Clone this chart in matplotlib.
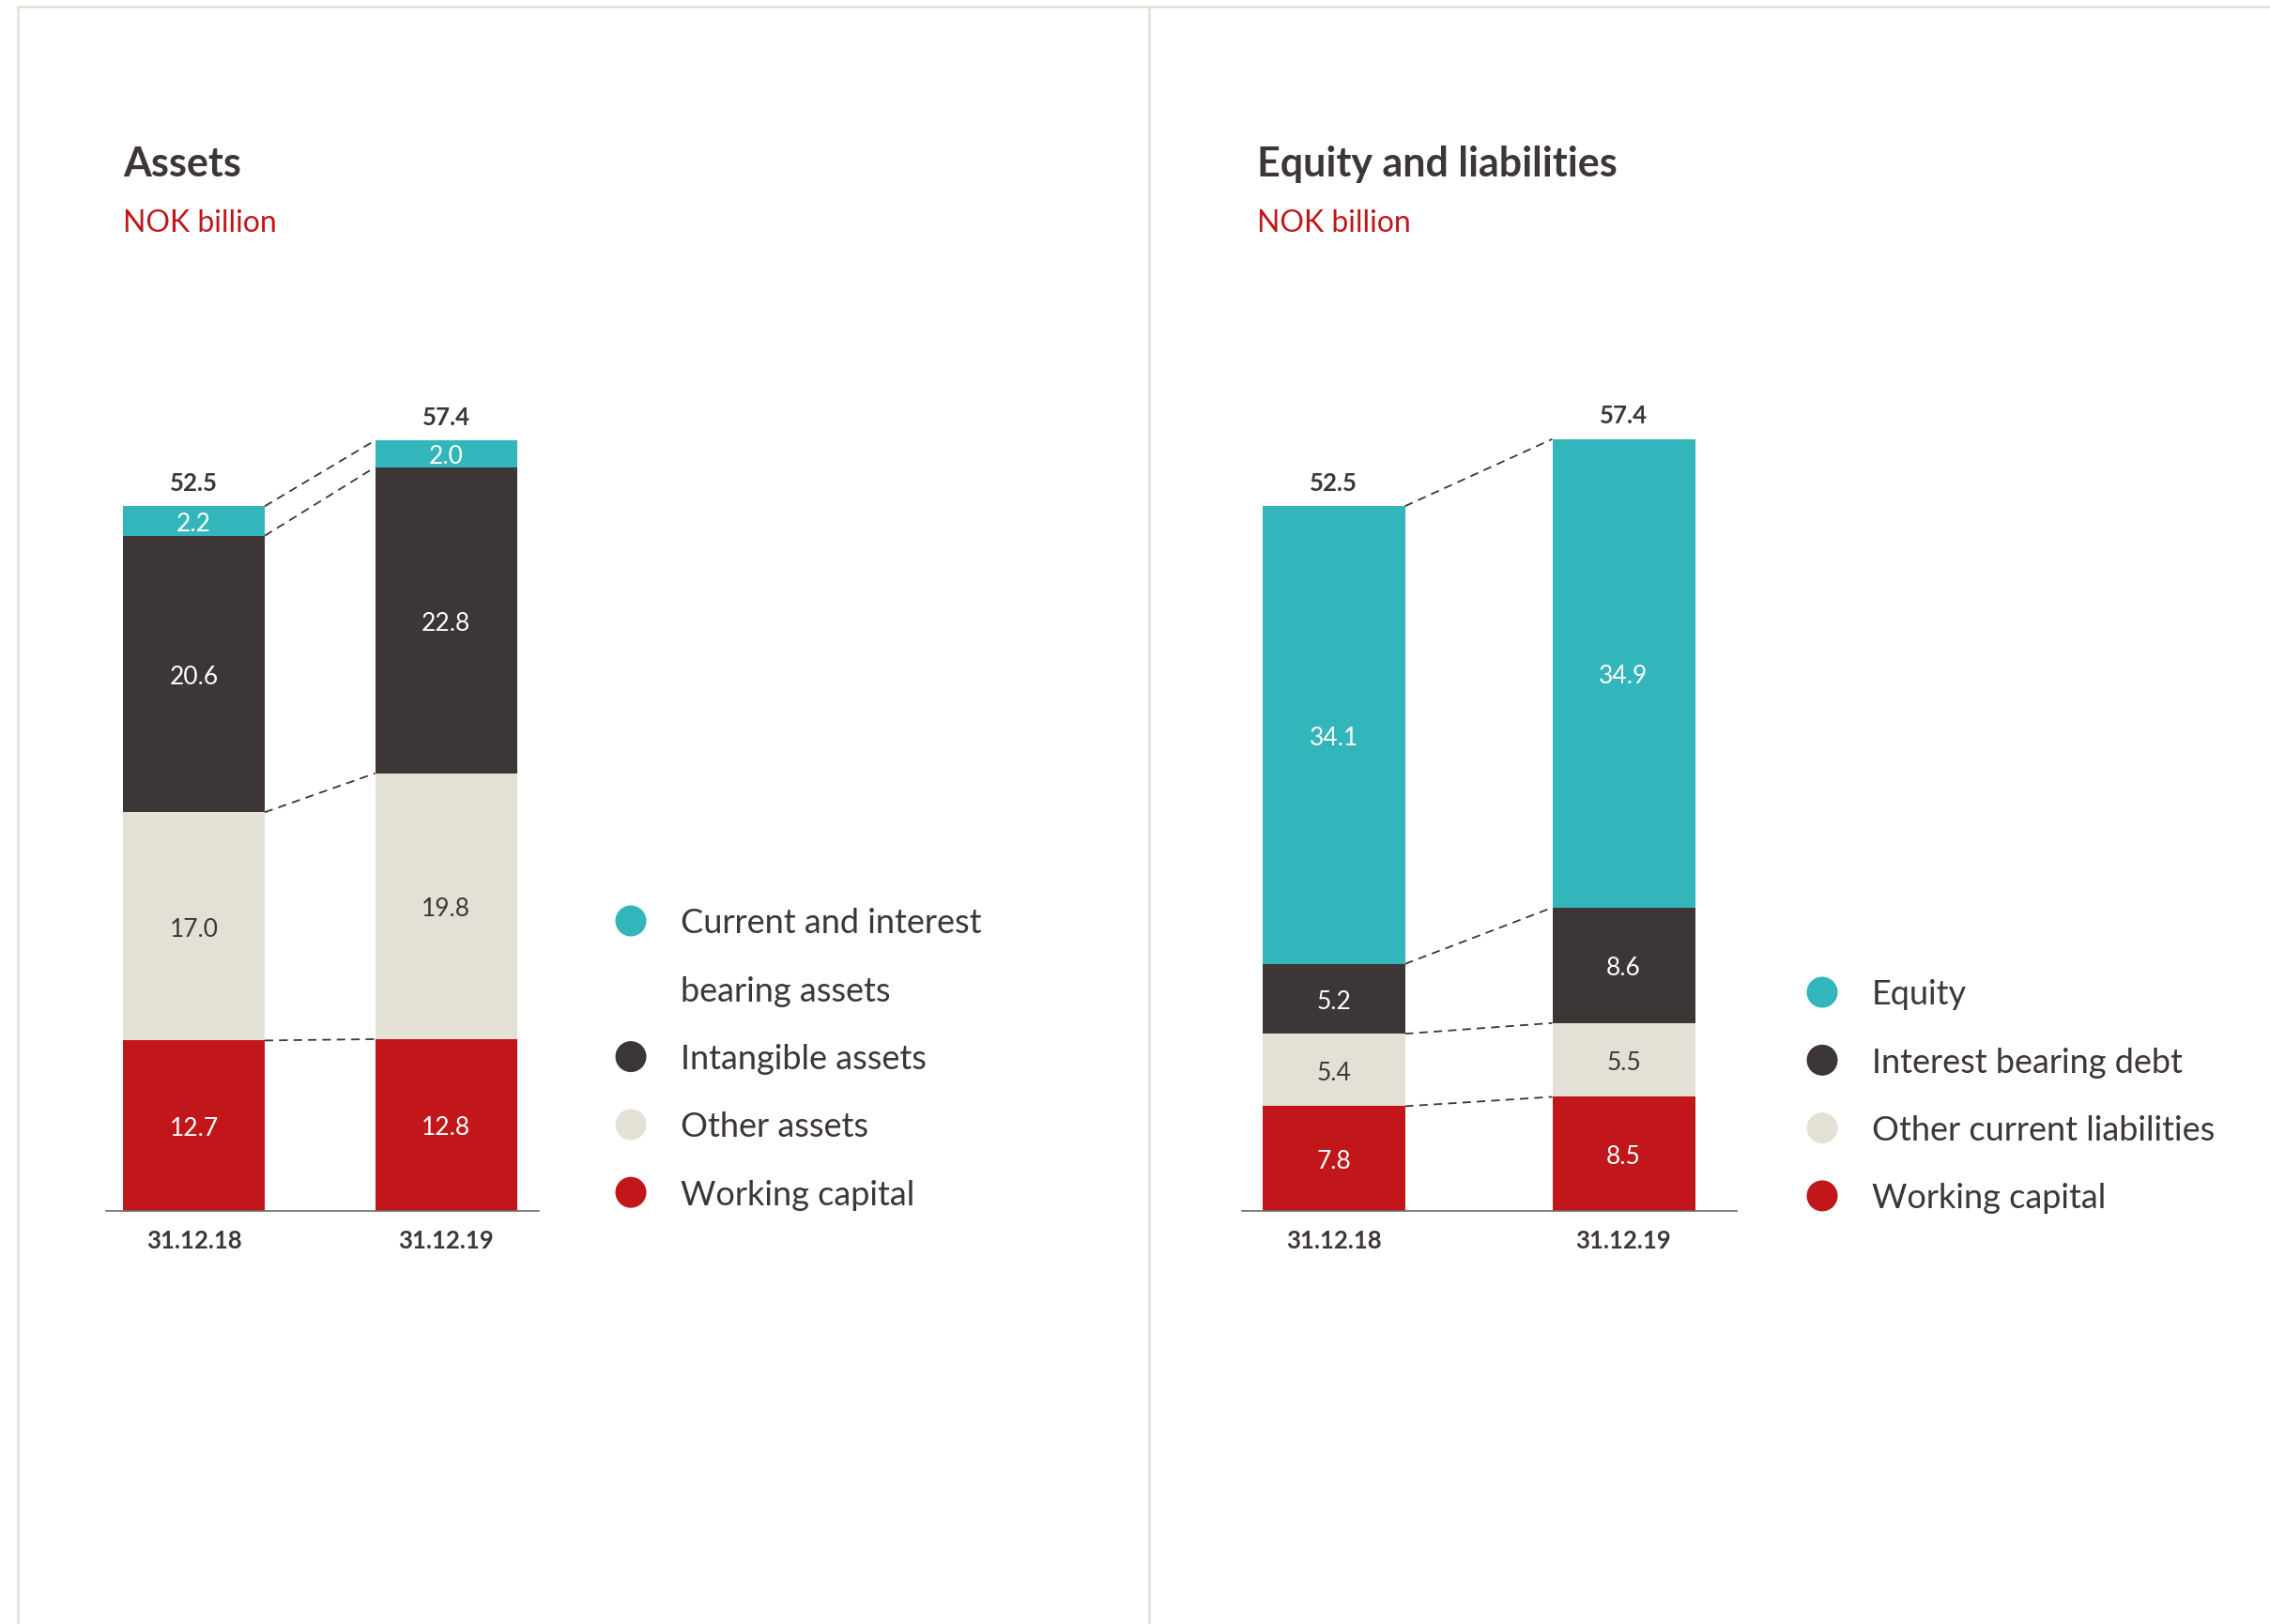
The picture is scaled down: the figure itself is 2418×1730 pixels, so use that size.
import matplotlib.pyplot as plt
from matplotlib.patches import Circle

# --- data -------------------------------------------------------------
dates = ['31.12.18', '31.12.19']

asset_names = ['Working capital', 'Other assets', 'Intangible assets',
               'Current and interest\nbearing assets']
working_capital_assets = [12.7, 12.8]
other_assets = [17.0, 19.8]
intangible_assets = [20.6, 22.8]
current_interest_assets = [2.2, 2.0]
asset_totals = [52.5, 57.4]

liability_names = ['Working capital', 'Other current liabilities',
                   'Interest bearing debt', 'Equity']
working_capital_liab = [7.8, 8.5]
other_current_liab = [5.4, 5.5]
interest_bearing_debt = [5.2, 8.6]
equity = [34.1, 34.9]
liability_totals = [52.5, 57.4]

# --- style --------------------------------------------------------------
plt.rcParams['font.family'] = ['Lato', 'DejaVu Sans']
TEXT = '#3d3637'
RED = '#c1171b'
colors = [RED, '#e3e1d6', '#3d3637', '#33b6bb']
value_colors = ['white', TEXT, 'white', 'white']
FRAME = '#e4e3da'

W, H = 2418, 1731
PX_PER_UNIT = 14.3
BASE_Y = 1291  # pixel row of the zero line


def axes_rect(x0, x1, ymax=60):
    top = BASE_Y - ymax * PX_PER_UNIT
    return [x0 / W, (H - BASE_Y) / H, (x1 - x0) / W, (BASE_Y - top) / H]


def draw_stack(ax, series, totals, width, xlim):
    x = [0, 1]
    bottoms = [0.0, 0.0]
    for vals, c, tc in zip(series, colors, value_colors):
        ax.bar(x, vals, width, bottom=bottoms, color=c, linewidth=0, zorder=2)
        for xi, v, b in zip(x, vals, bottoms):
            ax.text(xi, b + v / 2, f'{v:.1f}', ha='center', va='center_baseline',
                    color=tc, fontsize=19)
        bottoms = [b + v for b, v in zip(bottoms, vals)]
        # dashed connector between the tops of the two segments
        ax.plot([width / 2, 1 - width / 2], bottoms, ls=(0, (5, 3.5)),
                color=TEXT, lw=1.3, zorder=1)
    for xi, t, top in zip(x, totals, bottoms):
        ax.annotate(f'{t:.1f}', (xi, top), xytext=(0, 12.5), textcoords='offset points',
                    ha='center', va='baseline', fontsize=18.5, fontweight='bold', color=TEXT)
    ax.set_xlim(*xlim)
    ax.set_ylim(0, 60)
    ax.set_xticks(x, dates)
    ax.tick_params(axis='x', length=0, pad=14, labelsize=18.5, labelcolor=TEXT)
    for lab in ax.get_xticklabels():
        lab.set_fontweight('bold')
    ax.set_yticks([])
    for s in ['top', 'right', 'left']:
        ax.spines[s].set_visible(False)
    ax.spines['bottom'].set_color('#6f6a6b')
    ax.spines['bottom'].set_linewidth(1.2)
    ax.patch.set_alpha(0)


fig = plt.figure(figsize=(W / 100, H / 100), dpi=100)

# background overlay in pixel coordinates: frame, titles, legends
bg = fig.add_axes([0, 0, 1, 1], zorder=0)
bg.set_xlim(0, W)
bg.set_ylim(H, 0)
bg.axis('off')
bg.plot([19, W], [8, 8], color=FRAME, lw=2)
bg.plot([19, 19], [8, H], color=FRAME, lw=2)
bg.plot([1224, 1224], [8, H], color=FRAME, lw=2)

for x0, title in [(131, 'Assets'), (1339, 'Equity and liabilities')]:
    bg.text(x0, 188, title, fontsize=31, fontweight='bold', color=TEXT, va='baseline')
    bg.text(x0, 247, 'NOK billion', fontsize=23, color=RED, va='baseline')


def draw_legend(names, mx, tx, y0, step=72.3):
    y = y0
    for name, c in zip(reversed(names), reversed(colors)):
        bg.add_patch(Circle((mx, y), 16.5, color=c, lw=0))
        for line in name.split('\n'):
            bg.text(tx, y + 12.5, line, fontsize=26, color=TEXT, va='baseline')
            y += step


draw_legend(asset_names, 672, 725, 982)
draw_legend(liability_names, 1941, 1994, 1058)

# left chart: bar centres at 206.5 and 475 px, width 151 px
ax1 = fig.add_axes(axes_rect(113, 574), zorder=1)
draw_stack(ax1, [working_capital_assets, other_assets, intangible_assets,
                 current_interest_assets], asset_totals, 151 / 268.5,
           ((113 - 206.5) / 268.5, (574 - 206.5) / 268.5))

# right chart: bar centres at 1420.5 and 1729.5 px, width 152 px
ax2 = fig.add_axes(axes_rect(1323, 1850), zorder=1)
draw_stack(ax2, [working_capital_liab, other_current_liab, interest_bearing_debt,
                 equity], liability_totals, 152 / 309,
           ((1323 - 1420.5) / 309, (1850 - 1420.5) / 309))

fig.savefig('out.png', dpi=100, facecolor='white')
